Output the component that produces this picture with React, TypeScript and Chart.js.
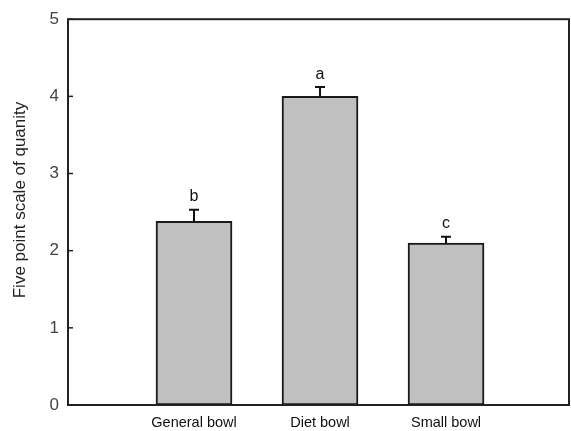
import React, { useEffect, useRef } from "react";
import { Chart, registerables } from "chart.js";

Chart.register(...registerables);

const categories = ["General bowl", "Diet bowl", "Small bowl"];
const positions = [1, 2, 3];
const means = [2.38, 4.0, 2.1];
const errors = [0.15, 0.12, 0.08];
const letters = ["b", "a", "c"];
const yTicks = [0, 1, 2, 3, 4, 5];
const yTitle = "Five point scale of quanity";

const FONT = "'Liberation Sans', Arial, sans-serif";

const decorPlugin = {
  id: "decor",
  afterDatasetsDraw(chart: any) {
    const { ctx, chartArea, scales } = chart;
    const x = scales.x;
    const y = scales.y;
    ctx.save();
    // error bars
    ctx.strokeStyle = "#111";
    ctx.lineWidth = 2;
    ctx.fillStyle = "#111";
    ctx.font = `16px ${FONT}`;
    ctx.textAlign = "center";
    ctx.textBaseline = "bottom";
    positions.forEach((p, i) => {
      const px = x.getPixelForValue(p);
      const y0 = y.getPixelForValue(means[i]);
      const y1 = y.getPixelForValue(means[i] + errors[i]);
      ctx.beginPath();
      ctx.moveTo(px, y0);
      ctx.lineTo(px, y1);
      ctx.moveTo(px - 5, y1);
      ctx.lineTo(px + 5, y1);
      ctx.stroke();
      ctx.fillText(letters[i], px, y1 - 5);
    });
    // frame
    ctx.strokeStyle = "#222";
    ctx.lineWidth = 2;
    ctx.strokeRect(chartArea.left, chartArea.top, chartArea.right - chartArea.left, chartArea.bottom - chartArea.top);
    // inward y ticks
    ctx.lineWidth = 1.5;
    yTicks.forEach((t) => {
      const py = y.getPixelForValue(t);
      ctx.beginPath();
      ctx.moveTo(chartArea.left, py);
      ctx.lineTo(chartArea.left + 5, py);
      ctx.stroke();
    });
    // y title
    ctx.save();
    ctx.translate(20, 200);
    ctx.rotate(-Math.PI / 2);
    ctx.fillStyle = "#222";
    ctx.font = `17px ${FONT}`;
    ctx.textAlign = "center";
    ctx.textBaseline = "middle";
    ctx.fillText(yTitle, 0, 0);
    ctx.restore();
    ctx.restore();
  },
};

export default function App() {
  const ref = useRef<HTMLCanvasElement | null>(null);
  useEffect(() => {
    document.body.style.margin = "0";
    if (!ref.current) return;
    const chart = new Chart(ref.current, {
      type: "bar",
      data: {
        datasets: [
          {
            data: positions.map((p, i) => ({ x: p, y: means[i] })),
            backgroundColor: "#c0c0c0",
            borderColor: "#1a1a1a",
            borderWidth: 2,
            borderSkipped: false,
            barThickness: 76,
          },
        ],
      },
      options: {
        animation: false,
        responsive: false,
        layout: { padding: { top: 16, right: 2, left: 0, bottom: 0 } },
        plugins: { legend: { display: false }, tooltip: { enabled: false } },
        scales: {
          x: {
            type: "linear",
            offset: false,
            min: 0,
            max: 3.976,
            afterBuildTicks: (scale: any) => {
              scale.ticks = positions.map((v) => ({ value: v }));
            },
            afterFit: (scale: any) => {
              scale.height = 26;
            },
            ticks: {
              autoSkip: false,
              maxRotation: 0,
              padding: 9,
              color: "#111",
              font: { family: FONT, size: 14.5 },
              callback: (v: any) => {
                const i = positions.indexOf(Number(v));
                return i >= 0 ? categories[i] : "";
              },
            },
            grid: { display: false, drawTicks: false },
            border: { display: false },
          },
          y: {
            min: 0,
            max: 5,
            afterBuildTicks: (scale: any) => {
              scale.ticks = yTicks.map((v) => ({ value: v }));
            },
            afterFit: (scale: any) => {
              scale.width = 68;
            },
            ticks: {
              padding: 9,
              color: "#444",
              font: { family: FONT, size: 17 },
            },
            grid: { display: false, drawTicks: false },
            border: { display: false },
          },
        },
      },
      plugins: [decorPlugin],
    } as any);
    return () => chart.destroy();
  }, []);
  return (
    <div style={{ width: 571, height: 431 }}>
      <canvas ref={ref} width={571} height={431} style={{ display: "block" }} />
    </div>
  );
}
